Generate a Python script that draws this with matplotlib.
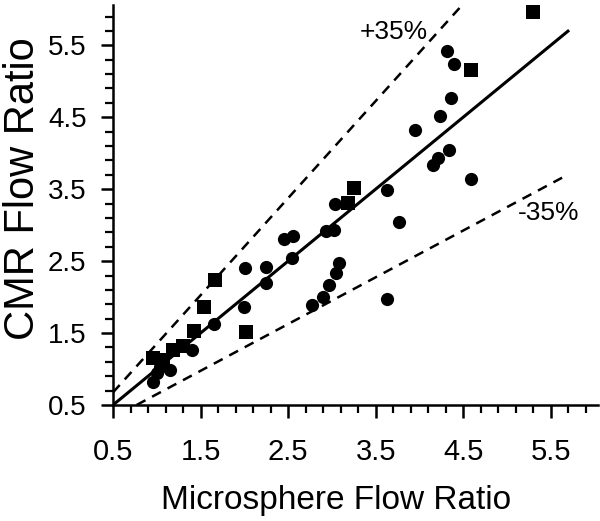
import numpy as np
import matplotlib
matplotlib.use("Agg")
from matplotlib import pyplot as plt

plt.rcParams['font.family'] = ['Liberation Sans', 'DejaVu Sans']

# CMR vs microsphere flow ratios
circle_x = [0.96, 1.00, 1.04, 1.15, 1.40, 1.65, 2.00, 2.01, 2.25, 2.25,
            2.55, 2.45, 2.56, 2.77, 2.90, 2.97, 3.05, 3.08, 2.93, 3.03,
            3.04, 3.63, 3.77, 3.63, 3.95, 4.16, 4.21, 4.34, 4.24, 4.36,
            4.32, 4.40, 4.59]
circle_y = [0.82, 0.94, 1.03, 0.99, 1.26, 1.62, 1.86, 2.40, 2.42, 2.19,
            2.55, 2.81, 2.85, 1.89, 2.00, 2.17, 2.33, 2.48, 2.92, 2.93,
            3.30, 3.49, 3.05, 1.98, 4.32, 3.83, 3.94, 4.04, 4.52, 4.77,
            5.42, 5.24, 3.64]

square_x = [0.96, 1.07, 1.19, 1.30, 1.42, 1.54, 1.67, 2.02, 3.18, 3.25, 4.59, 5.30]
square_y = [1.15, 1.13, 1.26, 1.32, 1.53, 1.86, 2.24, 1.51, 3.31, 3.51, 5.16, 5.96]

# identity line and +/-35% limits
ident_x = [0.5, 5.71]
upper_x = [0.5, 4.5]
lower_x = [0.77, 5.63]
upper_k = 1.35
lower_k = 0.65

ticks = [0.5, 1.5, 2.5, 3.5, 4.5, 5.5]
tick_labels = ['0.5', '1.5', '2.5', '3.5', '4.5', '5.5']

fig = plt.figure(figsize=(6.0, 5.21), dpi=100)
ax = fig.add_axes([113/600, 116/521, 485/600, 400/521])

ax.plot(ident_x, ident_x, color='black', lw=2.2, solid_capstyle='butt')
ax.plot(upper_x, upper_k*np.array(upper_x), color='black', lw=1.8, ls=(0, (4, 3)))
ax.plot(lower_x, lower_k*np.array(lower_x), color='black', lw=1.8, ls=(0, (4, 3)))

ax.plot(circle_x, circle_y, 'o', color='black', ms=9.5, mew=0)
ax.plot(square_x, square_y, 's', color='black', ms=9.5, mew=0)

ax.text(3.71, 5.69, '+35%', fontsize=19, ha='center', va='center')
ax.text(5.48, 3.17, '-35%', fontsize=19, ha='center', va='center')

ax.set_xlim(0.5, 6.04)
ax.set_ylim(0.5, 6.06)
ax.spines['top'].set_visible(False)
ax.spines['right'].set_visible(False)
for s in ('left', 'bottom'):
    ax.spines[s].set_linewidth(1.8)

ax.set_xticks(ticks)
ax.set_xticklabels(tick_labels)
ax.set_yticks(ticks)
ax.set_yticklabels(tick_labels)
minor = np.arange(0.5, 6.0, 0.2)
ax.set_xticks(minor, minor=True)
ax.set_yticks(minor, minor=True)
ax.tick_params(which='major', length=9, width=1.8, labelsize=21)
ax.tick_params(axis='x', which='major', pad=15)
ax.tick_params(axis='y', which='major', pad=10, labelsize=20)
ax.tick_params(which='minor', length=6, width=1.6)

ax.set_xlabel('Microsphere Flow Ratio', fontsize=24)
ax.xaxis.set_label_coords(0.46, -0.2)
ax.set_ylabel('CMR Flow Ratio', fontsize=30)
ax.yaxis.set_label_coords(-0.144, 0.54)

fig.savefig('out.png', dpi=100)
